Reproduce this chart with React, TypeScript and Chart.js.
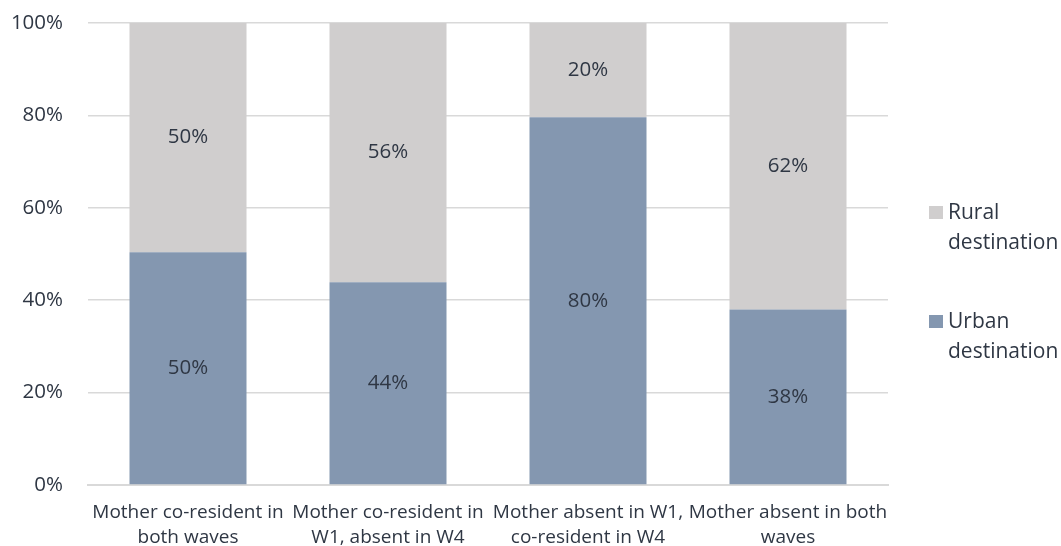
import React, { useEffect, useRef } from "react";
import { Chart, registerables } from "chart.js";

Chart.register(...registerables);

const categories: string[][] = [
  ["Mother co-resident in", "both waves"],
  ["Mother co-resident in", "W1, absent in W4"],
  ["Mother absent in W1,", "co-resident in W4"],
  ["Mother absent in both", "waves"],
];
const urbanValues = [50.4, 43.9, 79.6, 38.0];
const ruralValues = [49.6, 56.1, 20.4, 62.0];
const yTicks = [0, 20, 40, 60, 80, 100];
const urbanLabel = ["Urban", "destination"];
const ruralLabel = ["Rural", "destination"];

const FONT = "'Open Sans', 'Noto Sans', sans-serif";
const TEXT = "#2f3744";
const FS = 19;
const FS_VAL = 20.5;
const FS_LEG = 21;

const valueLabels = {
  id: "valueLabels",
  afterDatasetsDraw(chart: any) {
    const ctx = chart.ctx;
    ctx.save();
    ctx.font = `${FS_VAL}px ${FONT}`;
    ctx.fillStyle = TEXT;
    ctx.textAlign = "center";
    ctx.textBaseline = "middle";
    chart.data.datasets.forEach((ds: any, di: number) => {
      const meta = chart.getDatasetMeta(di);
      meta.data.forEach((bar: any, i: number) => {
        const v = ds.data[i];
        const y = (bar.y + bar.base) / 2;
        ctx.fillText(Math.round(v) + "%", bar.x, y);
      });
    });
    ctx.restore();
  },
};

const sideLegend = {
  id: "sideLegend",
  afterDraw(chart: any) {
    const ctx = chart.ctx;
    const area = chart.chartArea;
    ctx.save();
    ctx.font = `${FS_LEG}px ${FONT}`;
    ctx.textBaseline = "middle";
    ctx.textAlign = "left";
    const items = [
      { ds: chart.data.datasets[1], top: 206 - area.top },
      { ds: chart.data.datasets[0], top: 315 - area.top },
    ];
    items.forEach((it) => {
      const bx = area.right + 41;
      const by = area.top + it.top;
      ctx.fillStyle = it.ds.backgroundColor;
      ctx.fillRect(bx, by, 14, 13);
      ctx.fillStyle = TEXT;
      const lines: string[] = it.ds.legendText;
      lines.forEach((ln, k) => {
        ctx.fillText(ln, bx + 19, by + 7 + k * 30);
      });
    });
    ctx.restore();
  },
};

export default function App() {
  const ref = useRef<HTMLCanvasElement>(null);
  useEffect(() => {
    const chart = new Chart(ref.current as HTMLCanvasElement, {
      type: "bar",
      data: {
        labels: categories,
        datasets: [
          {
            label: urbanLabel.join(" "),
            legendText: urbanLabel,
            data: urbanValues,
            backgroundColor: "#8497B0",
            categoryPercentage: 1,
            barPercentage: 0.585,
          } as any,
          {
            label: ruralLabel.join(" "),
            legendText: ruralLabel,
            data: ruralValues,
            backgroundColor: "#D0CECE",
            categoryPercentage: 1,
            barPercentage: 0.585,
          } as any,
        ],
      },
      options: {
        animation: false,
        responsive: false,
        maintainAspectRatio: false,
        layout: { padding: { top: 23, right: 173, left: 0, bottom: 0 } },
        plugins: {
          legend: { display: false },
          tooltip: { enabled: false },
        },
        scales: {
          x: {
            stacked: true,
            grid: { display: false, drawTicks: false },
            border: { color: "#D9D9D9", width: 2 },
            ticks: {
              color: TEXT,
              font: { family: FONT, size: FS, lineHeight: 1.33 },
              padding: 15,
              maxRotation: 0,
              autoSkip: false,
            },
            afterFit: (s: any) => {
              s.height = 61;
              s.paddingLeft = 0;
              s.paddingRight = 0;
            },
          },
          y: {
            stacked: true,
            min: 0,
            max: 100,
            afterBuildTicks: (s: any) => {
              s.ticks = yTicks.map((v) => ({ value: v }));
            },
            grid: { color: "#D9D9D9", lineWidth: 1.5, drawTicks: false },
            border: { display: false },
            ticks: {
              color: TEXT,
              font: { family: FONT, size: FS_VAL },
              padding: 25,
              callback: (v: any) => v + "%",
            },
            afterFit: (s: any) => {
              s.width = 88;
              s.paddingTop = 0;
              s.paddingBottom = 0;
            },
          },
        },
      } as any,
      plugins: [valueLabels, sideLegend],
    });
    return () => chart.destroy();
  }, []);
  return (
    <div style={{ position: "absolute", left: 0, top: 0, width: 1061, height: 546, background: "#fff" }}>
      <canvas ref={ref} width={1061} height={546} style={{ width: 1061, height: 546 }} />
    </div>
  );
}
